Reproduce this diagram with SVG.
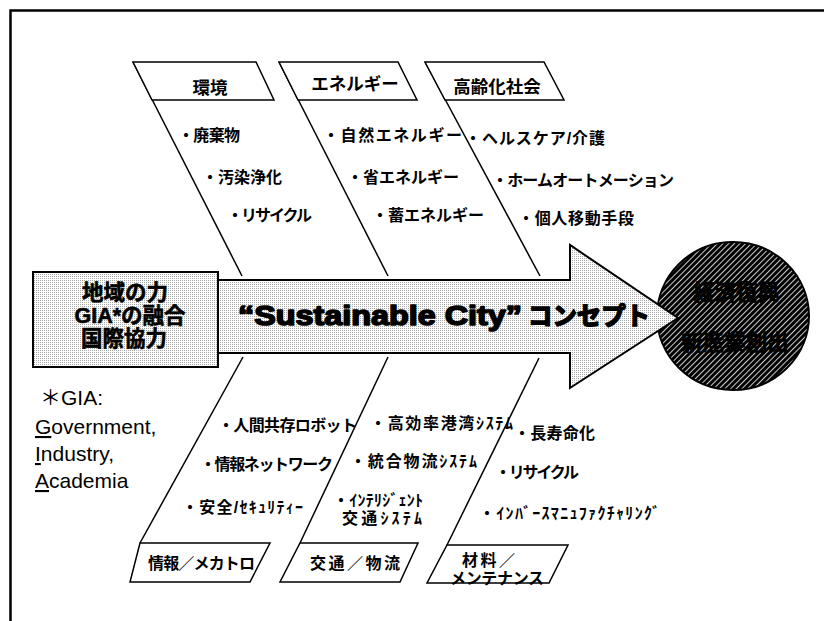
<svg xmlns="http://www.w3.org/2000/svg" width="824" height="621" viewBox="0 0 824 621">
<defs>
<pattern id="dots" width="2" height="2" patternUnits="userSpaceOnUse"><rect width="2" height="2" fill="#fff"/><rect width="1" height="1" fill="#a8a8a8"/></pattern>
<pattern id="hatch" width="4" height="4" patternUnits="userSpaceOnUse" patternTransform="rotate(45)"><rect width="4" height="4" fill="#fff"/><rect width="3.2" height="4" fill="#000"/></pattern>
<style>
text{font-family:"Liberation Sans","Noto Sans CJK JP",sans-serif;fill:#000}
.item{font-size:16px;font-weight:700}
.lab{font-size:17.5px;font-weight:700}
.big{font-size:21.5px;font-weight:700;stroke:#000;stroke-width:0.6}
.note{font-size:21px}
.box{fill:#fff;stroke:#000;stroke-width:1.5}
.bone{stroke:#000;stroke-width:1.5;fill:none}
.title{font-weight:700;stroke:#000;stroke-width:1.6;stroke-linejoin:round}
</style>
</defs>
<rect width="824" height="621" fill="#fff"/>
<path d="M10.5,621 V10.5 H824" fill="none" stroke="#000" stroke-width="2.5"/>

<g id="goal">
<ellipse cx="733" cy="316" rx="76" ry="74" fill="url(#hatch)" stroke="#000" stroke-width="2"/>
<text class="big" x="736" y="300" text-anchor="middle">経済復興</text>
<text class="big" x="735" y="350" text-anchor="middle">新産業創出</text>
</g>

<g id="concept-arrow">
<path d="M218,280 L570,280 L570,245 L678,318 L570,388 L570,353 L218,353 Z" fill="url(#dots)" stroke="#000" stroke-width="2"/>
<text class="title" x="238" y="325" font-size="28" textLength="284" lengthAdjust="spacingAndGlyphs">“Sustainable City”</text>
<text class="title" x="528" y="325" font-size="25" textLength="122" lengthAdjust="spacingAndGlyphs">コンセプト</text>
</g>

<g id="source">
<rect x="33" y="272" width="185" height="95" fill="url(#dots)" stroke="#000" stroke-width="2"/>
<text class="big" x="125" y="300" text-anchor="middle">地域の力</text>
<text class="big" x="130" y="323" text-anchor="middle">GIA*の融合</text>
<text class="big" x="124" y="346" text-anchor="middle">国際協力</text>
</g>

<g id="connectors">
<path class="bone" d="M133,62 L242,276"/>
<path class="bone" d="M279,62 L388,276"/>
<path class="bone" d="M425,62 L540,276"/>
<path class="bone" d="M243,357 L140,543"/>
<path class="bone" d="M388,357 L300,543"/>
<path class="bone" d="M539,358 L447,545"/>
</g>

<g id="kankyo">
<path class="box" d="M133,62 L256,62 L274,100 L152,100 Z"/>
<text class="lab" x="210" y="94" text-anchor="middle">環境</text>
<text class="item" x="178" y="141" textLength="62">・廃棄物</text>
<text class="item" x="202" y="183" textLength="80">・汚染浄化</text>
<text class="item" x="227" y="221" textLength="85">・リサイクル</text>
</g>

<g id="energy">
<path class="box" d="M279,62 L398,62 L417,100 L298,100 Z"/>
<text class="lab" x="355" y="90" text-anchor="middle">エネルギー</text>
<text class="item" x="323" y="141" textLength="139">・自然エネルギー</text>
<text class="item" x="347" y="183" textLength="112">・省エネルギー</text>
<text class="item" x="372" y="221" textLength="112">・蓄エネルギー</text>
</g>

<g id="aging">
<path class="box" d="M425,62 L544,62 L564,100 L445,100 Z"/>
<text class="lab" x="497" y="93" text-anchor="middle">高齢化社会</text>
<text class="item" x="465" y="144" textLength="140">・ヘルスケア/介護</text>
<text class="item" x="492" y="186" textLength="182">・ホームオートメーション</text>
<text class="item" x="518" y="224" textLength="116">・個人移動手段</text>
</g>

<g id="info">
<path class="box" d="M140,543 L270,543 L250,582 L130,582 Z"/>
<text class="item" x="148" y="569" textLength="107">情報／メカトロ</text>
<text class="item" x="218" y="431" textLength="139">・人間共存ロボット</text>
<text class="item" x="200" y="470" textLength="133">・情報ネットワーク</text>
<text class="item" x="182" y="513" textLength="121">・安全/ｾｷｭﾘﾃｨｰ</text>
</g>

<g id="traffic">
<path class="box" d="M300,543 L418,543 L400,582 L280,582 Z"/>
<text class="item" x="310" y="569" font-size="17" textLength="90">交通／物流</text>
<text class="item" x="370" y="429" textLength="143">・高効率港湾ｼｽﾃﾑ</text>
<text class="item" x="350" y="467" textLength="127">・統合物流ｼｽﾃﾑ</text>
<text class="item" x="333" y="506" textLength="90">・ｲﾝﾃﾘｼﾞｪﾝﾄ</text>
<text class="item" x="342" y="524" textLength="80">交通ｼｽﾃﾑ</text>
</g>

<g id="material">
<path class="box" d="M447,545 L568,545 L549,583 L427,583 Z"/>
<text class="item" x="462" y="566" textLength="53">材料／</text>
<text class="item" x="450" y="584" textLength="94">メンテナンス</text>
<text class="item" x="514" y="439" textLength="81">・長寿命化</text>
<text class="item" x="495" y="478" textLength="84">・リサイクル</text>
<text class="item" x="479" y="519" textLength="181">・ｲﾝﾊﾞｰｽﾏﾆｭﾌｧｸﾁｬﾘﾝｸﾞ</text>
</g>

<g id="footnote">
<text class="note" x="40" y="405">＊GIA:</text>
<text class="note" x="35" y="434"><tspan text-decoration="underline">G</tspan>overnment,</text>
<text class="note" x="35" y="461"><tspan text-decoration="underline">I</tspan>ndustry,</text>
<text class="note" x="35" y="488"><tspan text-decoration="underline">A</tspan>cademia</text>
</g>
</svg>
